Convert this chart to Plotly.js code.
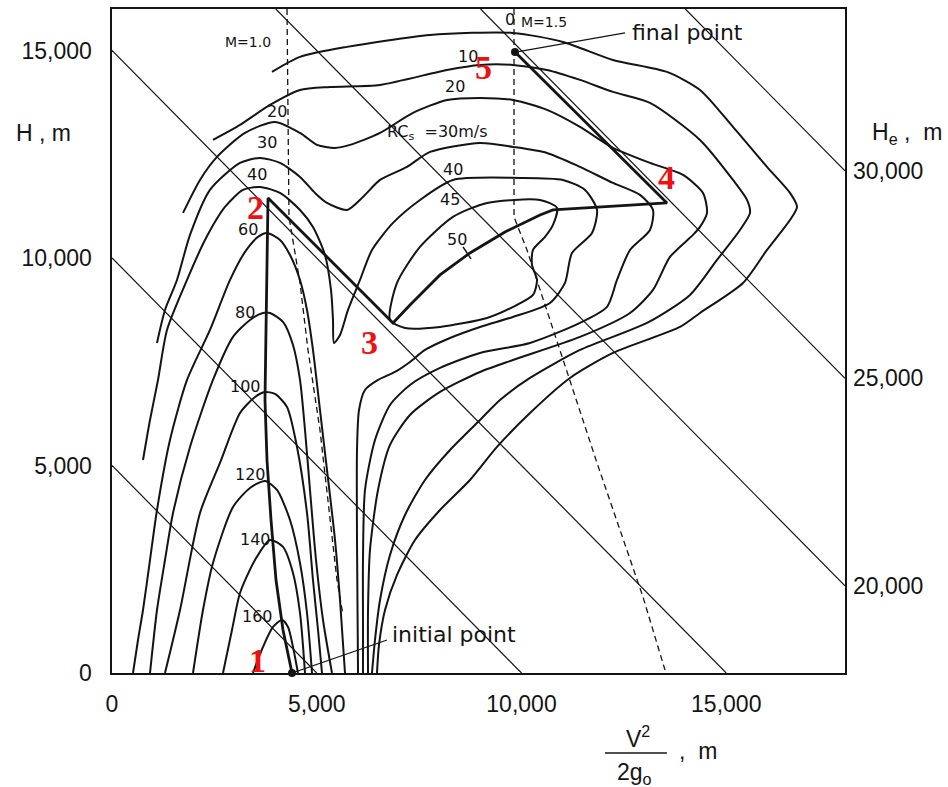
<!DOCTYPE html>
<html><head><meta charset="utf-8">
<script src="https://cdn.plot.ly/plotly-3.0.1.min.js"></script>
<style>html,body{margin:0;padding:0;background:#fff}#chart{width:948px;height:787px}</style>
</head><body><div id="chart"></div>
<script>
// ---- axis extents and tick labels ----
const xMax = 17900, yMax = 16000;
const xTickVals = [0, 5000, 10000, 15000];
const xTickText = ['0', '5,000', '10,000', '15,000'];
const yTickVals = [0, 5000, 10000, 15000];
const yTickText = ['0', '5,000', '10,000', '15,000'];
// energy height lines He = H + V^2/2g
const energyHeights = [5000, 10000, 15000, 20000, 25000, 30000];
const rightTickHe = [20000, 25000, 30000];
const rightTickText = ['20,000', '25,000', '30,000'];

// ---- specific excess power contours (x = V^2/2g, y = H), metres ----
const c0_x = [3907,4591,5739,7766,9792,11013,12234,13553,14359,15165,15995,16557,16728,16557,15995,15409,14359,13871,12234,11184,10208,9402,8742,8010,7399,6960,6667,6520,6471];
const c0_y = [14484,14846,15087,15376,15424,15207,14773,14484,14050,13159,12195,11568,11231,10917,10194,9399,8676,8339,7712,7110,6266,5447,4651,3928,3205,2362,1518,675,0];
const c10_x = [2466,3126,3858,4591,5324,6545,8181,8987,9792,10623,11429,12234,13138,14359,15165,15507,15580,15336,14774,14115,13065,11429,10208,9475,8987,8254,7643,7155,6789,6545,6422,6349];
const c10_y = [12845,13207,13689,14050,14123,14171,14532,14653,14653,14532,14291,14002,13737,12845,11881,11399,11086,10676,9953,9110,8435,7784,7110,6579,6097,5374,4651,3808,2844,1759,795,0];
const c20_x = [1734,2149,2564,3248,3980,4591,5006,5446,5812,6545,7350,8181,8987,9792,10623,11429,12234,13138,13944,14432,14530,14359,14188,13626,13211,12650,11429,9792,8987,8010,7277,6789,6496,6300,6252,6252];
const c20_y = [11086,11881,12436,13014,13279,13014,12725,12653,12725,13014,13496,13809,13858,13809,13568,13159,12653,12291,12002,11568,11086,10749,10556,10026,9230,8676,8098,7543,7254,6772,6218,5495,4410,2964,1518,0];
const c30_x = [1099,1294,1587,1905,2393,3126,3614,4103,4591,4957,5250,5739,6129,6545,7204,7766,8987,9792,10623,11429,12234,12894,13211,13138,12650,12332,12088,11429,10208,8987,8010,7277,6789,6422,6178,6129,6129,6129];
const c30_y = [7953,8748,9471,10556,11640,12291,12412,12291,11954,11568,11327,11158,11472,11881,12195,12556,12773,12677,12532,12195,11809,11520,11158,10676,10194,9471,8821,8435,7953,7712,7351,6941,6459,5615,4410,2723,1277,0];
const c40_x = [757,928,1123,1343,1832,2271,2759,3199,3614,4103,4591,4908,5201,5348,5397,5421,5568,5763,6056,6349,6862,7521,8327,9963,11013,11551,11844,11722,11233,11062,10696,9792,8987,8254,7643,7277,6911,6496,6178,6032,5983,5983,6008];
const c40_y = [5133,6097,7061,8266,9471,10435,11231,11640,11713,11568,11158,10749,10074,9230,8507,7953,8146,8748,9471,10194,10845,11399,11881,11930,11881,11640,11158,10604,10122,9399,8917,8580,8339,8073,7784,7495,7254,7061,6820,6338,5374,3205,0];
const c45_x = [6789,6960,7521,8327,9158,10452,10867,10769,10574,10281,10256,10379,10281,9792,9158,8010,7155,6789];
const c45_y = [8507,9399,10267,10990,11327,11399,11207,10797,10508,10194,9833,9471,9110,8821,8556,8339,8315,8507];
const c50_x = [8571, 8767];
const c50_y = [10267, 9977];
const c60_x = [513,635,757,928,1099,1416,1832,2393,2882,3248,3565,3785,4103,4347,4591,4762,4908,5079,5250,5446,5568,5690];
const c60_y = [0,795,1518,2723,3928,5615,7061,8266,9471,10146,10508,10604,10435,10074,9471,8748,7784,6338,4892,3205,1759,0];
const c80_x = [928,1099,1294,1490,1905,2466,2955,3370,3687,3858,4176,4420,4591,4713,4835,4982,5153,5372];
const c80_y = [0,1518,2723,3856,5447,7061,8098,8507,8676,8676,8459,7905,7061,5856,4410,2723,1277,0];
const c100_x = [1294,1661,2149,2637,3126,3492,3736,3980,4274,4518,4762,4908,5031,5128];
const c100_y = [0,1518,3856,5061,6266,6652,6772,6724,6411,5447,3856,2241,1036,0];
const c120_x = [1978,2222,2466,2955,3370,3736,4029,4347,4591,4762,4884];
const c120_y = [0,1518,2651,4001,4459,4627,4410,3687,2651,1446,0];
const c140_x = [2711,2930,3126,3492,3858,4176,4420,4591,4713];
const c140_y = [0,1036,1928,2723,3205,3037,2410,1446,0];
const c160_x = [3443,3687,3932,4151,4298,4420,4542];
const c160_y = [0,627,1109,1277,1109,627,0];

// ---- Mach lines ----
const m10_x = [4274,4322,4591,4786,5079,5250,5494,5641];
const m10_y = [16000,10990,9399,7784,5856,4410,2241,1398];
const m15_x = [9817,9817,10134,10623,10940,11258,11844,12405,12967,13504];
const m15_y = [16000,10990,10194,8748,7784,6820,5061,3446,1832,72];

// ---- minimum-time trajectory 1-2-3-4-5 ----
const traj_x = [4396,4176,4005,3883,3785,3736,3761,3785,3810,6862,7277,8010,8742,9597,10452,10769,13553,9841];
const traj_y = [0,1036,2241,3687,5133,6579,8266,9953,11448,8435,8869,9592,10122,10628,11038,11158,11327,14966];
const endPts_x = [4396, 9841];
const endPts_y = [0, 14966];
const initPtr_x = [4396, 6716];
const initPtr_y = [0, 795];
const finalPtr_x = [9890, 12527];
const finalPtr_y = [14966, 15424];

const BLK = '#141414';
const traces = [];
function line(x, y, w, dash, spline) {
  traces.push({x: x, y: y, type: 'scatter', mode: 'lines', hoverinfo: 'skip',
    line: {color: BLK, width: w, dash: dash || 'solid', shape: spline ? 'spline' : 'linear', smoothing: 0.7}});
}
// He lines
energyHeights.forEach(function (he) {
  const xa = Math.max(0, he - yMax), xb = Math.min(he, xMax);
  line([xa, xb], [he - xa, he - xb], 1.2);
});
// contours
[[c0_x,c0_y],[c10_x,c10_y],[c20_x,c20_y],[c30_x,c30_y],[c40_x,c40_y],[c45_x,c45_y],
 [c60_x,c60_y],[c80_x,c80_y],[c100_x,c100_y],[c120_x,c120_y],[c140_x,c140_y],[c160_x,c160_y]]
 .forEach(function (c) { line(c[0], c[1], 2, 'solid', true); });
line(c50_x, c50_y, 1.5);
line(m10_x, m10_y, 1.3, '6px,4px', false);
line(m15_x, m15_y, 1.3, '6px,4px', false);
line(traj_x, traj_y, 2.8, 'solid', false);
line(initPtr_x, initPtr_y, 1.2);
line(finalPtr_x, finalPtr_y, 1.2);
traces.push({x: endPts_x, y: endPts_y, type: 'scatter', mode: 'markers', cliponaxis: false,
  hoverinfo: 'skip', marker: {color: BLK, size: 8}});

const F = 'Liberation Sans, Arial, sans-serif';
const FD = 'DejaVu Sans, Liberation Sans, sans-serif';
const ann = [];
function lab(t, x, y, s, extra, fam) {
  const a = {text: t, x: x, y: y, xref: 'x', yref: 'y', showarrow: false,
    xanchor: 'center', yanchor: 'middle', font: {family: fam || FD, size: s, color: BLK}};
  Object.assign(a, extra || {});
  ann.push(a);
}
// contour labels
lab('0', 9719, 15737, 16); lab('10', 8700, 14846, 16); lab('20', 8376, 14123, 16);
lab('RC<sub>s</sub>  =30m/s', 7950, 13014, 16);
lab('40', 8327, 12122, 16); lab('45', 8254, 11399, 16); lab('50', 8425, 10435, 16);
lab('M=1.0', 3321, 15207, 14); lab('M=1.5', 10560, 15689, 14);
lab('20', 4029, 13520, 16); lab('30', 3785, 12773, 16); lab('40', 3541, 12002, 16);
lab('60', 3321, 10676, 16); lab('80', 3248, 8676, 16); lab('100', 3248, 6893, 16);
lab('120', 3370, 4772, 16); lab('140', 3492, 3205, 16); lab('160', 3565, 1350, 16);
lab('final point', 12650, 15424, 22, {xanchor: 'left'});
lab('initial point', 6780, 920, 22, {xanchor: 'left'});
// red point numbers
const red = {family: 'Liberation Serif, Times New Roman, serif', size: 34, color: '#ee1111', weight: 'bold'};
[['1',3541,313],['2',3492,11207],['3',6300,7953],['4',13553,11930],['5',9060,14581]].forEach(function (p) {
  ann.push({text: '<b>' + p[0] + '</b>', x: p[1], y: p[2], xref: 'x', yref: 'y', showarrow: false,
    xanchor: 'center', yanchor: 'middle', font: red});
});
// right He axis labels
rightTickHe.forEach(function (he, i) {
  ann.push({text: rightTickText[i], x: 1, y: he - xMax, xref: 'paper', yref: 'y', xanchor: 'left',
    yanchor: 'middle', xshift: 6, showarrow: false, font: {family: F, size: 23, color: BLK}});
});
// axis titles
function pap(t, x, y) {
  ann.push({text: t, x: x, y: y, xref: 'paper', yref: 'paper', showarrow: false,
    xanchor: 'center', yanchor: 'middle', font: {family: F, size: 23, color: BLK}});
}
pap('H , m', -0.093, 0.813);
pap('H<sub>e</sub> ,  m', 1.085, 0.813);
pap('V<sup>2</sup>', 0.7176, -0.096);
pap('2g<sub>o</sub>', 0.7135, -0.152);
pap(',  m', 0.80, -0.118);

const layout = {
  width: 948, height: 787, showlegend: false,
  paper_bgcolor: '#fff', plot_bgcolor: '#fff',
  margin: {l: 112, r: 103, t: 9, b: 114},
  xaxis: {range: [0, xMax], showgrid: false, zeroline: false, showline: true, mirror: true,
    linecolor: BLK, linewidth: 1.6, ticks: '', tickvals: xTickVals, ticktext: xTickText,
    ticklabelstandoff: 10, tickfont: {family: F, size: 23, color: BLK}},
  yaxis: {range: [0, yMax], showgrid: false, zeroline: false, showline: true, mirror: true,
    linecolor: BLK, linewidth: 1.6, ticks: '', tickvals: yTickVals, ticktext: yTickText,
    ticklabelstandoff: 14, tickfont: {family: F, size: 23, color: BLK}},
  shapes: [{type: 'line', xref: 'paper', yref: 'paper', x0: 0.6726, x1: 0.757, y0: -0.1205, y1: -0.1205,
    line: {color: BLK, width: 1.6}}],
  annotations: ann
};
Plotly.newPlot('chart', traces, layout, {displayModeBar: false, staticPlot: true});
</script></body></html>
